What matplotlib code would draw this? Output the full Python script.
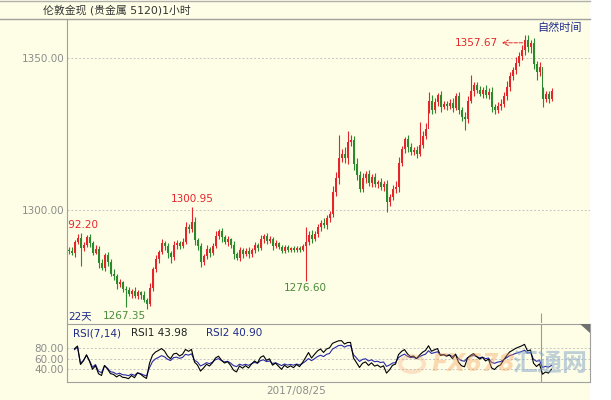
import numpy as np
import pandas as pd
import matplotlib
matplotlib.use('Agg')
import matplotlib.pyplot as plt
from matplotlib.patches import Rectangle, Polygon, Circle

plt.rcParams['font.family'] = ['DejaVu Sans', 'Noto Sans CJK SC']

W, H = 611, 400

# hourly closes (left to right)
closes = [
    1286.5, 1285.8, 1289.5, 1290.8, 1287.5, 1288.6, 1291.0, 1289.2, 1286.0, 1287.3,
    1282.5, 1281.0, 1285.3, 1283.0, 1279.0, 1278.2, 1275.5, 1276.2, 1274.0, 1273.6,
    1272.5, 1273.4, 1271.6, 1273.0, 1272.2, 1270.5, 1269.0, 1274.5, 1280.5, 1284.0,
    1286.2, 1289.0, 1288.0, 1285.8, 1284.5, 1288.5, 1289.3, 1288.2, 1289.5, 1294.5,
    1293.8, 1296.0, 1290.0, 1288.0, 1283.0, 1284.8, 1287.2, 1286.0, 1288.0, 1291.5,
    1293.0, 1291.0, 1289.5, 1290.3, 1288.5, 1285.5, 1284.2, 1286.8, 1285.5, 1286.6,
    1285.4, 1287.0, 1288.4, 1287.6, 1290.4, 1291.3, 1289.8, 1290.5, 1288.2, 1289.0,
    1287.8, 1286.5, 1287.8, 1286.9, 1287.4, 1286.8, 1287.6, 1287.0, 1288.0, 1289.5,
    1291.8, 1290.5, 1292.2, 1294.3, 1295.8, 1295.0, 1297.5, 1298.6, 1306.0, 1310.5,
    1317.0, 1318.5, 1317.2, 1322.5, 1323.0, 1315.0, 1311.5, 1307.0, 1310.6, 1311.8,
    1309.0, 1311.0, 1308.5, 1309.2, 1307.6, 1308.4, 1302.5, 1304.2, 1306.8, 1307.5,
    1315.5, 1320.0, 1323.2, 1320.8, 1319.2, 1319.8, 1318.5, 1321.5, 1324.5, 1326.8,
    1336.0, 1333.0, 1335.5, 1337.8, 1334.0, 1335.0, 1334.2, 1335.3, 1333.6, 1337.5,
    1333.0, 1330.5, 1329.8, 1336.0, 1339.0, 1341.0, 1339.6, 1338.2, 1339.5, 1337.8,
    1338.9, 1334.0, 1332.8, 1334.3, 1335.0, 1337.5, 1340.5, 1344.0, 1346.0, 1348.5,
    1350.5, 1352.5, 1356.0, 1353.5, 1354.8, 1348.0, 1345.5, 1347.2, 1336.5, 1338.0,
    1336.6, 1339.0,
]
first_open = 1287.0

# upper / lower shadow lengths beyond the body (estimated)
up_wick = [
    0.8, 1.2, 0.6, 0.4, 1.5, 0.9, 0.7, 1.1, 0.5, 1.3,
    0.9, 1.4, 0.6, 1.0, 0.8, 1.6, 0.7, 1.2, 0.5, 0.9,
    1.1, 0.6, 1.3, 0.8, 0.5, 1.0, 0.7, 1.4, 0.9, 1.2,
    0.6, 1.5, 0.8, 1.1, 0.7, 1.3, 0.9, 0.6, 1.2, 1.6,
    0.8, 0.5, 1.7, 0.9, 1.2, 0.7, 1.4, 0.6, 1.0, 1.5,
    0.9, 1.2, 0.7, 1.0, 0.6, 1.3, 0.8, 1.1, 0.7, 0.9,
    1.2, 0.6, 1.0, 0.8, 1.4, 0.7, 1.1, 0.9, 0.6, 1.0,
    0.5, 0.8, 0.6, 0.7, 0.5, 0.8, 0.6, 0.7, 0.9, 0.5,
    1.2, 1.5, 0.8, 1.1, 0.9, 1.6, 0.8, 1.2, 1.8, 2.0,
    0.5, 1.5, 2.2, 1.0, 1.8, 1.4, 2.0, 1.2, 1.7, 1.0,
    1.5, 0.9, 1.3, 0.8, 1.2, 1.0, 1.6, 1.1, 1.4, 2.0,
    1.8, 1.2, 0.9, 1.5, 1.1, 0.8, 1.3, 0.5, 1.6, 1.9,
    0.5, 1.7, 1.2, 0.8, 1.4, 1.0, 0.9, 1.2, 1.5, 1.1,
    1.3, 0.9, 1.6, 1.4, 0.5, 1.2, 1.0, 1.3, 0.8, 1.5,
    1.1, 1.4, 0.9, 1.2, 1.6, 1.3, 1.8, 1.5, 1.2, 1.7,
    1.4, 1.9, 0.5, 1.6, 1.2, 1.8, 1.1, 1.4, 0.5, 1.3,
    1.2, 1.0,
]
dn_wick = [
    1.0, 0.7, 1.3, 0.6, 0.5, 1.1, 0.8, 1.4, 0.9, 0.6,
    1.5, 0.8, 1.1, 1.3, 0.7, 1.2, 1.6, 0.9, 1.0, 0.5,
    0.8, 1.3, 0.7, 1.0, 1.4, 0.9, 0.5, 0.6, 1.2, 0.8,
    1.4, 0.7, 1.1, 1.5, 0.5, 0.9, 1.2, 1.0, 0.7, 0.8,
    1.3, 1.0, 1.5, 1.2, 0.5, 1.1, 0.8, 1.3, 0.9, 0.6,
    1.0, 1.4, 0.8, 1.2, 1.0, 1.5, 0.5, 0.9, 1.3, 0.7,
    1.1, 0.8, 1.2, 1.0, 0.7, 1.3, 0.9, 0.6, 1.4, 0.8,
    0.7, 0.5, 0.8, 0.6, 0.7, 0.5, 0.6, 0.8, 0.5, 0.5,
    0.9, 1.3, 0.7, 1.0, 1.2, 0.8, 1.1, 1.4, 1.0, 1.5,
    1.8, 1.2, 1.6, 2.0, 1.3, 1.9, 1.5, 0.5, 1.2, 1.6,
    1.1, 1.4, 0.9, 1.3, 1.0, 1.5, 0.5, 1.2, 0.9, 1.1,
    1.6, 1.0, 1.3, 1.7, 1.2, 1.0, 1.4, 0.9, 1.1, 1.3,
    0.5, 1.5, 1.0, 1.3, 1.6, 0.9, 1.2, 1.0, 1.4, 0.8,
    1.5, 1.2, 0.5, 1.1, 0.9, 1.4, 1.2, 0.8, 1.3, 1.0,
    1.2, 1.6, 1.1, 0.9, 1.3, 1.0, 1.2, 1.5, 1.1, 1.4,
    1.0, 1.2, 1.6, 1.4, 1.8, 1.5, 0.5, 1.3, 0.5, 1.1,
    1.4, 0.9,
]
# long shadows visible on the chart
spike_hi = {3: 1292.20, 41: 1300.95, 79: 1294.4, 90: 1324.7, 93: 1326.0,
            117: 1329.0, 120: 1338.8, 134: 1344.4, 152: 1357.67, 158: 1340.5}
spike_lo = {4: 1281.5, 19: 1268.1, 26: 1267.35, 34: 1282.6, 44: 1281.3,
            56: 1283.4, 79: 1276.60, 97: 1305.8, 106: 1299.3, 120: 1332.0,
            132: 1326.3, 156: 1342.8, 158: 1334.0}

yticks_main = [1300, 1350]
yticks_rsi = [40, 60, 80]
title = '伦敦金现 (贵金属 5120)1小时'
date_label = '2017/08/25'

cream = '#fefee6'
red = '#e3262a'
green = '#2b8a2b'
gray = '#8c8c8c'
navy = '#1f2a8a'

def fx(x):
    return x / W

def fy(y):
    return 1 - y / H

n = len(closes)
idx = np.arange(n)
close_arr = np.array(closes)
opens = np.concatenate([[first_open], close_arr[:-1]])

fig = plt.figure(figsize=(W / 100, H / 100), dpi=100, facecolor='white')
fig.patches.append(Rectangle((0, 0), fx(590), 1, transform=fig.transFigure,
                             facecolor=cream, edgecolor='none', zorder=-10))

ax = fig.add_axes([fx(67), fy(323), (590 - 67) / W, (323 - 19) / H])
ax.set_facecolor(cream)
ax.set_xlim(-0.5, 173.83)
ax.set_ylim(1262.83, 1362.83)

for i in idx:
    o, c = opens[i], close_arr[i]
    col = red if c >= o else green
    hi = spike_hi.get(i, max(o, c) + up_wick[i])
    lo = spike_lo.get(i, min(o, c) - dn_wick[i])
    ax.vlines(i, lo, hi, color=col, lw=0.8, zorder=3)
    ax.bar(i, max(abs(c - o), 0.3), bottom=min(o, c), width=0.55,
           color=col, edgecolor='none', zorder=4)

for v in yticks_main:
    ax.axhline(v, color='#c4c4c4', lw=0.7, ls=(0, (2, 2)), zorder=1)
ax.set_yticks(yticks_main)
ax.set_yticklabels(['%.2f' % v for v in yticks_main])
ax.tick_params(axis='y', length=0, pad=2, labelsize=7.5, labelcolor=gray)
ax.set_xticks([])
for s in ['top', 'right', 'bottom']:
    ax.spines[s].set_visible(False)
ax.spines['left'].set_color('#a0a0a0')
ax.vlines(157.5, 1262.83, 1266.2, color='#9a9a9a', lw=0.8)

# price labels
ax.text(3, 1295.1, '1292.20', color=red, fontsize=7.5, ha='center', va='center', clip_on=True)
ax.text(41.2, 1303.6, '1300.95', color=red, fontsize=7.5, ha='center', va='center')
ax.text(18.5, 1265.1, '1267.35', color='#4a8c3a', fontsize=7.5, ha='center', va='center')
ax.text(79, 1274.3, '1276.60', color='#4a8c3a', fontsize=7.5, ha='center', va='center')
ax.text(143.2, 1355.0, '1357.67', color=red, fontsize=7.5, ha='right', va='center')
ax.annotate('', xy=(143.5, 1355.0), xytext=(152.3, 1355.0),
            arrowprops=dict(arrowstyle='->', color=red, lw=0.7, linestyle='--'))
ax.text(0.0, 1265.1, '22天', color=navy, fontsize=7.5, ha='left', va='center')

# RSI panel, computed from candle open->close moves
chg = pd.Series(close_arr - opens)
def rsi(d, period):
    up = d.clip(lower=0).ewm(alpha=1 / period, adjust=True).mean()
    dn = (-d.clip(upper=0)).ewm(alpha=1 / period, adjust=True).mean()
    out = 100 - 100 / (1 + up / dn)
    out.iloc[:2] = np.nan
    return out

rsi1 = rsi(chg, 7)
rsi2 = rsi(chg, 14)

ax2 = fig.add_axes([fx(67), fy(382), (590 - 67) / W, (382 - 324) / H])
ax2.set_facecolor(cream)
ax2.set_xlim(-0.5, 173.83)
ax2.set_ylim(15, 127)
for v in yticks_rsi:
    ax2.axhline(v, color='#c4c4c4', lw=0.7, ls=(0, (2, 2)), zorder=1)
ax2.plot(idx, rsi2, color='#2a2aa8', lw=0.8, zorder=3)
ax2.plot(idx, rsi1, color='black', lw=0.8, zorder=4)
ax2.axvline(157.5, color='#9a9a9a', lw=0.8, zorder=2)
ax2.set_yticks(yticks_rsi)
ax2.set_yticklabels(['%.2f' % v for v in yticks_rsi])
ax2.tick_params(axis='y', length=0, pad=2, labelsize=7.5, labelcolor=gray)
ax2.set_xticks([])
for sp in ax2.spines.values():
    sp.set_color('#a0a0a0')
    sp.set_linewidth(0.8)

# watermark
fig.patches.append(Circle((fx(412), fy(364)), 12 / W, transform=fig.transFigure,
                          facecolor='none', edgecolor='#f0a070', lw=3, alpha=0.3, zorder=5))
fig.text(fx(432), fy(364), 'FX678', color='#f4a060', alpha=0.4, fontsize=17,
         fontweight='bold', style='italic', ha='left', va='center')
fig.text(fx(512), fy(364), '汇通网', color='#7fa3c8', alpha=0.5, fontsize=18,
         fontweight='bold', ha='left', va='center', family=['Noto Sans CJK SC'])

# header / frame
fig.add_artist(plt.Line2D([0, fx(590)], [fy(19), fy(19)], transform=fig.transFigure,
                          color='#a0a0a0', lw=1))
fig.add_artist(plt.Line2D([0, fx(590)], [fy(0.5), fy(0.5)], transform=fig.transFigure,
                          color='#b0b0b0', lw=1))
fig.text(fx(43), fy(10), title, fontsize=7.8, color='#333333', ha='left', va='center')
fig.text(fx(537), fy(28), '自然时间', fontsize=8, color=navy, ha='left', va='center')
fig.text(fx(73), fy(333), 'RSI(7,14)', fontsize=7.5, color=navy, ha='left', va='center')
fig.text(fx(131), fy(333), 'RSI1 43.98', fontsize=7.5, color='#222222', ha='left', va='center')
fig.text(fx(206), fy(333), 'RSI2 40.90', fontsize=7.5, color=navy, ha='left', va='center')
fig.text(fx(296), fy(391), date_label, fontsize=7.5, color=gray, ha='center', va='center')
fig.patches.append(Polygon([[fx(580), fy(324)], [fx(590), fy(324)], [fx(590), fy(333)]],
                           closed=True, transform=fig.transFigure, facecolor='#707070',
                           edgecolor='none', zorder=6))

fig.savefig('out.png', dpi=100, facecolor='white')
